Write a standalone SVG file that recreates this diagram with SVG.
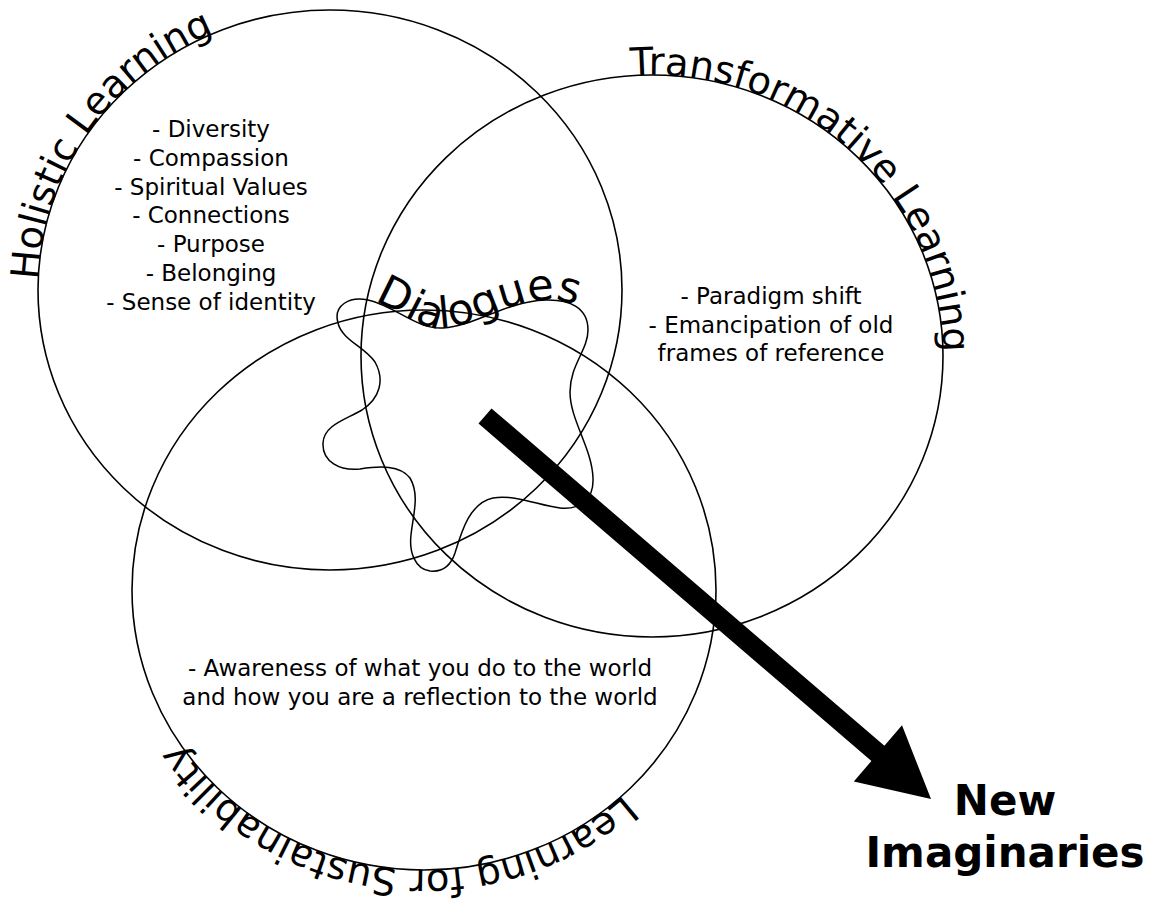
<svg xmlns="http://www.w3.org/2000/svg" xmlns:xlink="http://www.w3.org/1999/xlink" width="1156" height="899" viewBox="0 0 1156 899">
<style>
.ring{fill:none;stroke:#000;stroke-width:1.6}
.blob{fill:none;stroke:#000;stroke-width:1.5}
.lbl{font-family:"DejaVu Sans","Noto Sans",sans-serif;font-size:38.5px;fill:#000}
.body{font-family:"DejaVu Sans","Noto Sans",sans-serif;font-size:23px;fill:#000;text-anchor:middle}
.big{font-family:"DejaVu Sans","Noto Sans",sans-serif;font-size:42px;font-weight:bold;fill:#000;text-anchor:middle}
</style>
<defs>
<path id="pHol" d="M 38,290 A 292,280 0 0 1 622,290"/>
<path id="pTra" d="M 552.5,91.9 A 291,281 0 0 1 943,356 A 291,281 0 0 1 652,637"/>
<path id="pSus" d="M 716,590 A 292,280 0 0 1 132,590"/>
<path id="pDia" d="M 368,300 C 395,306 418,330 443,328 C 475,326 505,302 545,300 C 570,299 588,308 588,330"/>
</defs>
<rect width="1156" height="899" fill="#fff"/>
<g id="holistic">
<ellipse class="ring" cx="330" cy="290" rx="292" ry="280"/>
<text class="lbl"><textPath xlink:href="#pHol" startOffset="10">Holistic Learning</textPath></text>
<text class="body"><tspan x="211" y="137">- Diversity</tspan><tspan x="211" y="165.8">- Compassion</tspan><tspan x="211" y="194.5">- Spiritual Values</tspan><tspan x="211" y="223.3">- Connections</tspan><tspan x="211" y="252">- Purpose</tspan><tspan x="211" y="280.8">- Belonging</tspan><tspan x="211" y="309.5">- Sense of identity</tspan></text>
</g>
<g id="transformative">
<ellipse class="ring" cx="652" cy="356" rx="291" ry="281"/>
<text class="lbl"><textPath xlink:href="#pTra" startOffset="80">Transformative Learning</textPath></text>
<text class="body"><tspan x="771" y="304">- Paradigm shift</tspan><tspan x="771" y="332.5">- Emancipation of old</tspan><tspan x="771" y="361">frames of reference</tspan></text>
</g>
<g id="sustainability">
<ellipse class="ring" cx="424" cy="590" rx="292" ry="280"/>
<text class="lbl"><textPath xlink:href="#pSus" startOffset="231">Learning for Sustainability</textPath></text>
<text class="body"><tspan x="420" y="676">- Awareness of what you do to the world</tspan><tspan x="420" y="705">and how you are a reflection to the world</tspan></text>
</g>
<g id="dialogues">
<path class="blob" d="M 338,323 C 333,305 350,296 368,300 C 395,306 418,330 443,328 C 475,326 505,302 545,300 C 570,299 588,308 588,330 C 588,350 570,365 570,392 C 570,420 592,448 593,478 C 594,500 580,510 560,508 C 540,506 515,494 493,498 C 470,503 462,530 455,553 C 450,568 440,572 430,571 C 415,569 409,552 411,535 C 413,515 420,495 410,478 C 400,465 380,466 360,469 C 340,471 322,462 323,443 C 324,425 345,420 362,410 C 380,398 385,380 375,362 C 365,347 342,340 338,323 Z"/>
<text class="lbl" style="font-size:43px"><textPath xlink:href="#pDia" startOffset="6">Dialogues</textPath></text>
</g>
<g id="new-imaginaries">
<text class="big"><tspan x="1005" y="815">New</tspan><tspan x="1005" y="867">Imaginaries</tspan></text>
</g>
<g id="connectors">
<path d="M 478.5,423.6 L 491.5,408.4 L 884.4,745.8 L 902,725.3 L 931,799 L 853.8,781.5 L 871.4,761 Z" fill="#000"/>
</g>
</svg>
